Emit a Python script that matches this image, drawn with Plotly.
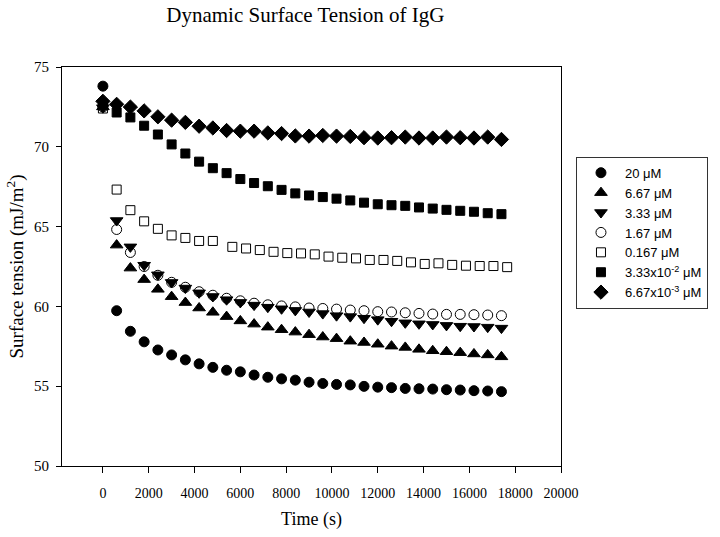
import plotly.graph_objects as go

# time points (s)
t_std = [i * 600 for i in range(30)]
t_sq_open = [0, 600, 1200, 1800, 2400, 3000, 3600, 4200, 4800] + [5650 + 600 * k for k in range(21)]

labels = ["20 μM", "6.67 μM", "3.33 μM", "1.67 μM", "0.167 μM",
          "3.33x10<sup>-2</sup> μM", "6.67x10<sup>-3</sup> μM"]

y_20 = [73.8, 59.73, 58.44, 57.78, 57.27, 56.96, 56.65, 56.4, 56.18, 56.0, 55.9, 55.7, 55.56, 55.46,
        55.38, 55.25, 55.17, 55.11, 55.08, 54.99, 54.94, 54.91, 54.86, 54.84, 54.82, 54.78, 54.76,
        54.72, 54.70, 54.66]
y_667 = [72.5, 63.84, 62.4, 61.68, 61.07, 60.61, 60.24, 59.9, 59.63, 59.36, 59.09, 58.89, 58.7, 58.54,
         58.39, 58.23, 58.08, 57.98, 57.82, 57.74, 57.63, 57.51, 57.43, 57.31, 57.22, 57.16, 57.1,
         57.02, 56.96, 56.84]
y_333 = [72.45, 65.38, 63.73, 62.58, 61.98, 61.5, 61.15, 60.85, 60.62, 60.42, 60.25, 60.08, 59.95,
         59.85, 59.75, 59.65, 59.55, 59.42, 59.36, 59.26, 59.17, 59.07, 58.97, 58.91, 58.87, 58.81,
         58.76, 58.74, 58.70, 58.64]
y_167 = [72.5, 64.82, 63.38, 62.5, 61.95, 61.51, 61.2, 60.92, 60.7, 60.51, 60.35, 60.2, 60.1, 60.03,
         59.97, 59.9, 59.87, 59.83, 59.77, 59.73, 59.67, 59.65, 59.6, 59.56, 59.52, 59.5, 59.5, 59.48,
         59.46, 59.42]
y_0167 = [72.4, 67.32, 66.03, 65.33, 64.86, 64.45, 64.29, 64.1, 64.1, 63.73, 63.63, 63.53, 63.42,
          63.34, 63.32, 63.26, 63.12, 63.05, 63.01, 62.91, 62.91, 62.85, 62.76, 62.66, 62.7, 62.6,
          62.55, 62.53, 62.53, 62.46]
y_333e2 = [72.7, 72.15, 71.84, 71.32, 70.77, 70.15, 69.58, 69.07, 68.66, 68.35, 67.98, 67.73, 67.53,
           67.3, 67.08, 66.95, 66.85, 66.75, 66.64, 66.5, 66.4, 66.34, 66.3, 66.2, 66.13, 66.05,
           65.99, 65.93, 65.84, 65.78]
y_667e3 = [72.85, 72.66, 72.49, 72.25, 71.88, 71.67, 71.53, 71.29, 71.18, 71.02, 70.98, 70.98, 70.87,
           70.83, 70.68, 70.67, 70.71, 70.67, 70.65, 70.57, 70.55, 70.57, 70.61, 70.55, 70.55, 70.61,
           70.57, 70.55, 70.61, 70.46]

x_ticks = list(range(0, 20001, 2000))
y_ticks = [50, 55, 60, 65, 70, 75]

series = [
    (t_std, y_20, "circle", 10),
    (t_std, y_667, "triangle-up", 11),
    (t_std, y_333, "triangle-down", 11),
    (t_std, y_167, "circle-open", 10),
    (t_sq_open, y_0167, "square-open", 9),
    (t_std, y_333e2, "square", 9),
    (t_std, y_667e3, "diamond", 11),
]

fig = go.Figure()
for (xs, ys, sym, sz), name in zip(series, labels):
    fig.add_trace(go.Scatter(
        x=xs, y=ys, mode="markers", name=name,
        marker=dict(symbol=sym, size=sz, color="black",
                    line=dict(color="black", width=1)),
    ))

serif = "Liberation Serif, Times New Roman, serif"
fig.update_layout(
    width=720, height=537,
    margin=dict(l=62, r=158, t=67, b=63),
    paper_bgcolor="white", plot_bgcolor="white",
    title=dict(text="Dynamic Surface Tension of IgG", x=0.424, xanchor="center",
               y=0.972, yanchor="middle", font=dict(family=serif, size=21, color="black")),
    font=dict(family=serif, color="black"),
    showlegend=True,
    legend=dict(x=1.03, xanchor="left", y=0.775, yanchor="top",
                bordercolor="#333", borderwidth=1, bgcolor="white", itemwidth=38,
                font=dict(family="Liberation Sans, Arial, sans-serif", size=13, color="black"),
                itemsizing="trace"),
)
fig.update_xaxes(
    range=[-1786, 20000], tickvals=x_ticks, ticktext=[str(v) for v in x_ticks],
    ticks="outside", ticklen=6, tickcolor="black", showline=True, linecolor="black",
    linewidth=1, mirror=True, showgrid=False, zeroline=False, ticklabelstandoff=8,
    tickfont=dict(family=serif, size=14, color="black"),
    title=dict(text="Time (s)", font=dict(family=serif, size=18, color="black"), standoff=12),
)
fig.update_yaxes(
    range=[50, 75], tickvals=y_ticks, ticks="outside", ticklen=5, tickcolor="black",
    showline=True, linecolor="black", linewidth=1, mirror=True, showgrid=False, zeroline=False,
    ticklabelstandoff=4,
    tickfont=dict(family=serif, size=15, color="black"),
    title=dict(text="Surface tension (mJ/m<sup>2</sup>)",
               font=dict(family=serif, size=19, color="black"), standoff=5),
)

fig.write_html("out.html", config={"displayModeBar": False},
               post_script="document.body.style.margin='0';document.body.style.overflow='hidden';")
